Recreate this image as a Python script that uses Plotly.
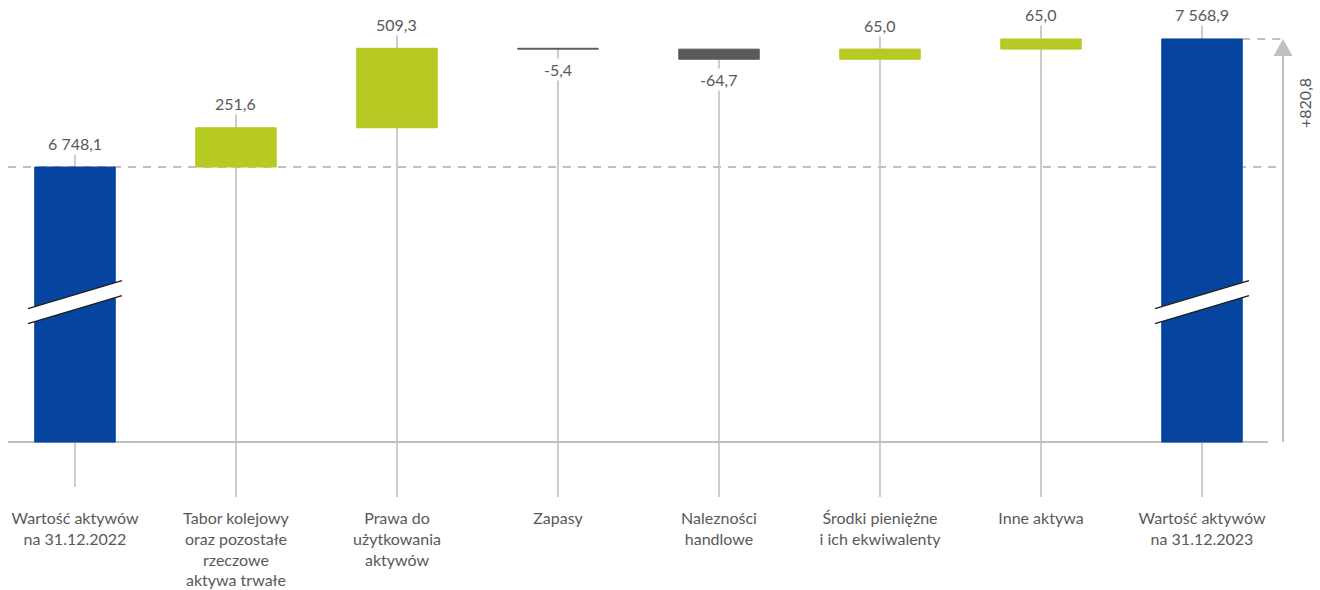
import plotly.graph_objects as go

# ---- data -------------------------------------------------------------
categories = [
    "Wartość aktywów<br>na 31.12.2022",
    "Tabor kolejowy<br>oraz pozostałe<br>rzeczowe<br>aktywa trwałe",
    "Prawa do<br>użytkowania<br>aktywów",
    "Zapasy",
    "Nalezności<br>handlowe",
    "Środki pieniężne<br>i ich ekwiwalenty",
    "Inne aktywa",
    "Wartość aktywów<br>na 31.12.2023",
]
start_total = 6748.1
changes = [251.6, 509.3, -5.4, -64.7, 65.0, 65.0]
end_total = round(start_total + sum(changes), 1)

# ---- styling ----------------------------------------------------------
BLUE = "#05459F"
GREEN = "#B7C923"
DARK = "#58595B"
TEXT = "#595959"
GREY = "#C0C0C0"
FONT = "Lato"
FONT_SIZE = 16

W, H = 1320, 590
MARGIN_B = 93
PLOT_H = H - MARGIN_B
Y_RANGE = [4632.7, 7818.6]          # value axis window (broken below the bars)
AXIS_FLOOR = 4985.0                 # where the broken axis line sits
BREAK_AT = 5882.0                   # centre of the break marks on total bars
X_RANGE = [-0.4658, 7.733]
K = PLOT_H / (Y_RANGE[1] - Y_RANGE[0])          # pixels per unit (vertical)
PX_X = W / (X_RANGE[1] - X_RANGE[0])            # pixels per category (horizontal)


def fmt(v, sign=False):
    s = f"{abs(v):,.1f}".replace(",", " ").replace(".", ",")
    if v < 0:
        s = "-" + s
    elif sign:
        s = "+" + s
    return s


# ---- waterfall geometry ----------------------------------------------
xs = list(range(len(categories)))
bases, heights, colors, label_vals = [], [], [], []
bases.append(AXIS_FLOOR)
heights.append(start_total - AXIS_FLOOR)
colors.append(BLUE)
label_vals.append(start_total)
running = start_total
for d in changes:
    bases.append(running if d >= 0 else running + d)
    heights.append(abs(d))
    colors.append(GREEN if d >= 0 else DARK)
    label_vals.append(d)
    running += d
bases.append(AXIS_FLOOR)
heights.append(end_total - AXIS_FLOOR)
colors.append(BLUE)
label_vals.append(end_total)

fig = go.Figure()
fig.add_trace(go.Bar(
    x=xs, y=heights, base=bases, width=0.5,
    marker=dict(color=colors, line=dict(color=colors, width=1)),
    hoverinfo="skip",
))

shapes = []
annotations = []
for i, (b, h, v) in enumerate(zip(bases, heights, label_vals)):
    top = b + h
    if v >= 0 or i in (0, len(xs) - 1):
        lab_y, shift = top, 24
        line_top = top + 24 / K
    else:
        lab_y, shift = b, -20
        line_top = top
    # vertical guide line through each category
    line_bottom = Y_RANGE[0] + (10 / K if i == 0 else 0)
    shapes.append(dict(type="line", xref="x", yref="y", x0=i, x1=i,
                       y0=line_top, y1=line_bottom, layer="below",
                       line=dict(color=GREY, width=1.6)))
    annotations.append(dict(x=i, y=lab_y, yshift=shift, xref="x", yref="y",
                            text=fmt(v), showarrow=False, bgcolor="white",
                            borderpad=1,
                            font=dict(family=FONT, size=FONT_SIZE, color=TEXT)))

# horizontal axis line
x_left = X_RANGE[0] + 8 / PX_X
x_arrow = X_RANGE[0] + 1283 / PX_X
shapes.append(dict(type="line", xref="x", yref="y", x0=x_left,
                   x1=X_RANGE[0] + 1268 / PX_X, y0=AXIS_FLOOR, y1=AXIS_FLOOR,
                   layer="below", line=dict(color=GREY, width=2)))
# dashed reference lines at the two totals
shapes.append(dict(type="line", xref="x", yref="y", x0=x_left, x1=x_arrow,
                   y0=start_total, y1=start_total, layer="below",
                   line=dict(color=GREY, width=2, dash="8px,7px")))
shapes.append(dict(type="line", xref="x", yref="y", x0=len(xs) - 1 + 0.25,
                   x1=x_arrow, y0=end_total, y1=end_total, layer="below",
                   line=dict(color=GREY, width=2, dash="8px,7px")))
# change arrow on the right
head_h = 17 / K
head_w = 9.5 / PX_X
shapes.append(dict(type="line", xref="x", yref="y", x0=x_arrow, x1=x_arrow,
                   y0=AXIS_FLOOR, y1=end_total - head_h,
                   line=dict(color=GREY, width=2)))
shapes.append(dict(type="path", xref="x", yref="y",
                   path=(f"M {x_arrow - head_w},{end_total - head_h} "
                         f"L {x_arrow + head_w},{end_total - head_h} "
                         f"L {x_arrow},{end_total} Z"),
                   fillcolor=GREY, line=dict(width=0)))
annotations.append(dict(x=X_RANGE[0] + 1305 / PX_X, y=(start_total + end_total) / 2,
                        xref="x", yref="y", text=fmt(end_total - start_total, sign=True),
                        textangle=-90, showarrow=False,
                        font=dict(family=FONT, size=FONT_SIZE, color=TEXT)))

# axis-break marks on the two total bars
half_x = 47 / PX_X
rise = 14 / K
gap = 7.5 / K
for i in (0, len(xs) - 1):
    xl, xr = i - half_x, i + half_x
    yl, yr = BREAK_AT - rise, BREAK_AT + rise
    shapes.append(dict(type="path", xref="x", yref="y",
                       path=(f"M {xl},{yl + gap} L {xr},{yr + gap} "
                             f"L {xr},{yr - gap} L {xl},{yl - gap} Z"),
                       fillcolor="white", line=dict(width=0)))
    for s in (gap, -gap):
        shapes.append(dict(type="line", xref="x", yref="y",
                           x0=xl, x1=xr, y0=yl + s, y1=yr + s,
                           line=dict(color="#1E1E1E", width=1.5)))

fig.update_layout(
    width=W, height=H,
    margin=dict(l=0, r=0, t=0, b=MARGIN_B),
    paper_bgcolor="white", plot_bgcolor="white",
    showlegend=False, shapes=shapes, annotations=annotations,
    xaxis=dict(range=X_RANGE, tickmode="array", tickvals=xs, ticktext=categories,
               showgrid=False, zeroline=False, showline=False, ticks="",
               tickfont=dict(family=FONT, size=FONT_SIZE, color=TEXT),
               ticklabelstandoff=10, fixedrange=True),
    yaxis=dict(range=Y_RANGE, visible=False, fixedrange=True),
)

fig.write_html("out.html")
